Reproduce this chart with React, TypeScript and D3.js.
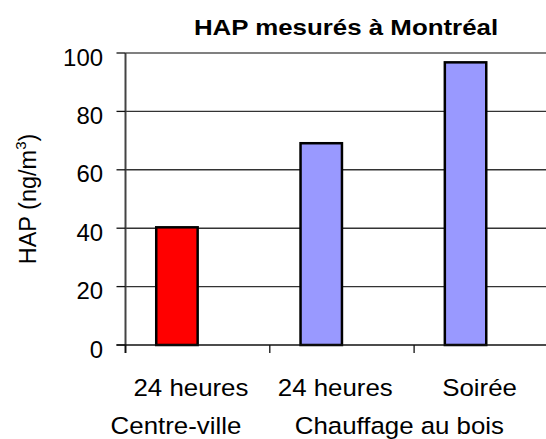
import * as d3 from 'd3';

const categories = ['c1', 'c2', 'c3'];
const values = [40.3, 69.1, 96.8];
const barColors = ['#ff0000', '#9999ff', '#9999ff'];
const rowOne = ['24 heures', '24 heures', 'Soirée'];
const groups = [
  { label: 'Centre-ville', from: 0, to: 0 },
  { label: 'Chauffage au bois', from: 1, to: 2 },
];
const yTicks = [0, 20, 40, 60, 80, 100];

const width = 546;
const height = 439;
const left = 125.5;
const top = 53;
const bottom = 345;
const band = 144.3;

const font = 'Arial, "Liberation Sans", sans-serif';
const stretch = 1.1;

export default function App() {
  const x = d3
    .scaleBand<string>()
    .domain(categories)
    .range([left, left + band * categories.length]);
  const y = d3.scaleLinear([0, 100], [bottom, top]);
  const bw = x.bandwidth();
  const barX = (i: number) => (x(categories[i]) ?? 0) + bw * 0.213;
  const barW = bw * 0.287;
  const barMid = (i: number) => barX(i) + barW / 2;

  const label = (tx: number, ty: number, s: string, size: number, k = stretch, bold = false) => (
    <text
      transform={`translate(${tx},${ty}) scale(${k},1)`}
      textAnchor="middle"
      fontSize={size}
      fontWeight={bold ? 'bold' : 'normal'}
      fontFamily={font}
      fill="#000"
    >
      {s}
    </text>
  );

  return (
    <svg
      width={width}
      height={height}
      style={{ position: 'absolute', left: 0, top: 0, background: '#fff' }}
    >
      {/* gridlines */}
      {yTicks.slice(1, -1).map((t) => (
        <line key={t} x1={left} x2={width} y1={y(t)} y2={y(t)} stroke="#333" strokeWidth={1.4} />
      ))}
      <line x1={left} x2={width} y1={y(100)} y2={y(100)} stroke="#808080" strokeWidth={2} />

      {values.map((v, i) => (
        <rect
          key={i}
          x={barX(i)}
          y={y(v)}
          width={barW}
          height={y(0) - y(v)}
          fill={barColors[i]}
          stroke="#000"
          strokeWidth={2.5}
        />
      ))}

      {/* axes */}
      <line x1={left} x2={left} y1={top} y2={bottom + 8} stroke="#444" strokeWidth={2} />
      <line x1={left - 9} x2={width} y1={bottom} y2={bottom} stroke="#111" strokeWidth={1.5} />
      {yTicks.map((t) => (
        <g key={t}>
          <line x1={left - 9} x2={left} y1={y(t)} y2={y(t)} stroke="#111" strokeWidth={1.3} />
          <text
            transform={`translate(103,${y(t) + 12.5}) scale(1.04,1)`}
            textAnchor="end"
            fontSize={23}
            fontFamily={font}
          >
            {t}
          </text>
        </g>
      ))}
      {categories.map((c) => (
        <line key={c} x1={x(c)} x2={x(c)} y1={bottom} y2={bottom + 8} stroke="#111" strokeWidth={1.3} />
      ))}

      {rowOne.map((s, i) => (
        <g key={i}>{label(barMid(i) + 14, 396, s, 23.5)}</g>
      ))}
      {groups.map((g) => (
        <g key={g.label}>
          {label((barMid(g.from) + barMid(g.to)) / 2 + (g.from === g.to ? -1 : 6), 434, g.label, 23.5)}
        </g>
      ))}

      {label(346, 35, 'HAP mesurés à Montréal', 22.5, 1.15, true)}

      <text
        transform="translate(36,199) rotate(-90)"
        textAnchor="middle"
        fontSize={23.5}
        fontFamily={font}
      >
        HAP (ng/m
        <tspan fontSize={15} dy={-10}>
          3
        </tspan>
        <tspan dy={10}>)</tspan>
      </text>
    </svg>
  );
}
